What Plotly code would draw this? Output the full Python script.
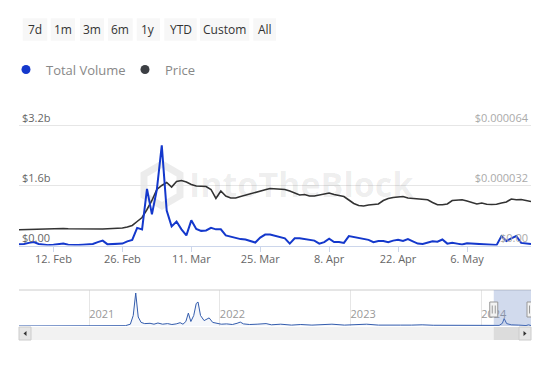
import pandas as pd
import plotly.graph_objects as go

W, H = 550, 367

# ---------------- data ----------------
start_date = "2024-02-05"
volume_bn = [0.03, 0.04, 0.07, 0.09, 0.04, 0.02, 0.01, 0.02, 0.04, 0.05,
             0.02, 0.01, 0.01, 0.02, 0.03, 0.04, 0.09, 0.13, 0.03, 0.03,
             0.03, 0.05, 0.11, 0.15, 0.47, 0.43, 1.51, 0.83, 1.49, 2.67,
             0.93, 0.51, 0.64, 0.43, 0.27, 0.67, 0.44, 0.39, 0.40, 0.47,
             0.43, 0.43, 0.27, 0.23, 0.21, 0.17, 0.16, 0.13, 0.08, 0.21,
             0.29, 0.29, 0.25, 0.23, 0.19, 0.05, 0.19, 0.19, 0.17, 0.15,
             0.13, 0.05, 0.09, 0.18, 0.09, 0.09, 0.07, 0.25, 0.23, 0.20,
             0.17, 0.15, 0.09, 0.12, 0.12, 0.09, 0.13, 0.15, 0.12, 0.17,
             0.11, 0.05, 0.04, 0.07, 0.11, 0.10, 0.16, 0.05, 0.07, 0.05,
             0.03, 0.06, 0.05, 0.05, 0.05, 0.04, 0.03, 0.01, 0.25, 0.12,
             0.19, 0.25, 0.07, 0.05, 0.04]
price_e6 = [8.37, 8.43, 8.53, 8.53, 8.64, 8.80, 8.91, 9.07, 9.23, 9.07,
            8.96, 8.91, 8.80, 8.69, 8.80, 8.69, 8.69, 8.80, 8.91, 8.96,
            9.07, 9.33, 9.87, 10.67, 12.8, 14.93, 19.2, 24.0, 29.87, 32.0,
            33.6, 31.2, 34.13, 34.67, 33.87, 32.53, 31.73, 31.47, 31.47, 29.87,
            25.07, 29.07, 26.4, 25.33, 25.33, 26.13, 26.93, 27.57, 28.27, 28.96,
            29.71, 30.4, 30.13, 29.87, 29.87, 29.07, 28.11, 26.93, 27.2, 26.4,
            26.4, 26.93, 27.73, 28.0, 27.2, 26.67, 26.13, 24.27, 22.4, 21.33,
            21.07, 21.6, 21.87, 22.13, 24.0, 25.07, 25.6, 25.97, 26.13, 25.33,
            25.07, 24.91, 24.53, 24.37, 22.93, 21.71, 21.71, 22.13, 24.0, 24.37,
            24.37, 23.73, 23.09, 22.13, 22.67, 21.97, 21.87, 21.97, 22.67, 23.2,
            24.8, 24.37, 24.53, 24.11, 23.47]
dates = pd.date_range(start_date, periods=len(volume_bn), freq="D")

nav_dates = ["2020-06-19", "2021-03-25", "2021-04-12", "2021-04-26", "2021-05-04",
             "2021-05-11", "2021-05-18", "2021-05-26", "2021-06-05", "2021-06-20",
             "2021-07-01", "2021-07-12", "2021-07-25", "2021-08-08", "2021-08-20",
             "2021-09-01", "2021-09-12", "2021-09-20", "2021-09-28", "2021-10-05",
             "2021-10-12", "2021-10-20", "2021-10-27", "2021-11-01", "2021-11-08",
             "2021-11-18", "2021-11-25", "2021-12-02", "2021-12-12", "2021-12-24",
             "2022-01-05", "2022-01-20", "2022-02-05", "2022-02-18", "2022-02-27",
             "2022-03-08", "2022-03-25", "2022-04-15", "2022-05-10", "2022-05-25",
             "2022-06-20", "2022-07-20", "2022-08-15", "2022-09-15", "2022-10-20",
             "2022-11-10", "2022-12-15", "2023-01-20", "2023-02-15", "2023-03-20",
             "2023-04-20", "2023-05-20", "2023-06-20", "2023-07-20", "2023-08-20",
             "2023-09-20", "2023-10-20", "2023-11-20", "2023-12-20", "2024-01-20",
             "2024-02-20", "2024-02-29", "2024-03-05", "2024-03-12", "2024-03-25",
             "2024-04-15", "2024-05-05", "2024-05-12", "2024-05-19"]
nav_volume_bn = [0, 0, 0.1, 0.6, 3.5,
                 11.0, 3.0, 1.2, 0.8, 0.9,
                 0.6, 1.0, 0.6, 0.8, 0.5,
                 0.7, 1.1, 0.6, 1.5, 4.3,
                 1.5, 3.5, 7.5, 8.0, 3.5,
                 1.8, 2.3, 2.7, 1.2, 0.8,
                 0.6, 0.7, 0.5, 0.9, 1.3,
                 0.7, 0.5, 0.6, 0.8, 0.4,
                 0.6, 0.3, 0.5, 0.3, 0.4,
                 0.6, 0.3, 0.4, 0.6, 0.3,
                 0.4, 0.3, 0.3, 0.4, 0.25,
                 0.2, 0.3, 0.35, 0.3, 0.2,
                 0.2, 0.9, 2.5, 0.8, 0.4,
                 0.3, 0.15, 0.4, 0.15]

buttons = ["7d", "1m", "3m", "6m", "1y", "YTD", "Custom", "All"]
vol_ticks = [0, 1.6, 3.2]
vol_ticktext = ["$0.00", "$1.6b", "$3.2b"]
price_ticks = [0, 32, 64]
price_ticktext = ["$0.00", "$0.000032", "$0.000064"]

# ---------------- layout helpers ----------------
def px(x):
    return x / W

def py(y):
    return (H - y) / H

BLUE = "#1438cc"
DARK = "#333333"
FONT = "Open Sans"

x_dom = [px(19), px(531)]
# volume 0 -> y=245.5, 3.2b -> y=125.5 ; axis extended to 3.7b so top labels fit
main_dom = [py(245.5), py(106.75)]
nav_dom = [py(326), py(290)]

fig = go.Figure()

fig.add_trace(go.Scatter(x=dates, y=price_e6, mode="lines", name="Price",
                         line=dict(color=DARK, width=1.6), xaxis="x", yaxis="y",
                         showlegend=False))
fig.add_trace(go.Scatter(x=dates, y=volume_bn, mode="lines", name="Total Volume",
                         line=dict(color=BLUE, width=2), xaxis="x", yaxis="y2",
                         showlegend=False))
# legend entries
fig.add_trace(go.Scatter(x=[None], y=[None], mode="markers", name="Total Volume",
                         marker=dict(color=BLUE, size=9), xaxis="x", yaxis="y2"))
fig.add_trace(go.Scatter(x=[None], y=[None], mode="markers", name="Price",
                         marker=dict(color="#3c3f44", size=9), xaxis="x", yaxis="y2"))
# navigator
fig.add_trace(go.Scatter(x=nav_dates, y=nav_volume_bn, mode="lines", showlegend=False,
                         line=dict(color="#335cad", width=1), fill="tozeroy",
                         fillcolor="rgba(51,92,173,0.05)", xaxis="x2", yaxis="y3"))

shapes = []
annotations = []

# range selector buttons
btn_x = [(22.7, 47.3), (50.7, 75), (80, 104), (108, 132.7), (136.7, 160),
         (164.3, 196.7), (200, 249.3), (253.3, 276)]
for label, (a, b) in zip(buttons, btn_x):
    shapes.append(dict(type="rect", xref="paper", yref="paper",
                       x0=px(a), x1=px(b), y0=py(40.7), y1=py(18.3),
                       fillcolor="#f7f7f7", line=dict(width=0), layer="below"))
    annotations.append(dict(text=label, xref="paper", yref="paper",
                            x=px((a + b) / 2), y=py(29.5), showarrow=False,
                            xanchor="center", yanchor="middle",
                            font=dict(family=FONT, size=12, color="#333333")))

# watermark
annotations.append(dict(text="<b>IntoTheBlock</b>", xref="paper", yref="paper",
                        x=px(301), y=py(184), showarrow=False,
                        xanchor="center", yanchor="middle",
                        font=dict(family=FONT, size=34, color="rgba(0,0,0,0.075)")))
hexpts = [(162, 164), (180, 174.5), (180, 195.5), (162, 206), (144, 195.5), (144, 174.5)]
path = "M " + " L ".join(f"{px(a):.5f},{py(b):.5f}" for a, b in hexpts) + " Z"
shapes.append(dict(type="path", xref="paper", yref="paper", path=path,
                   line=dict(color="rgba(0,0,0,0.075)", width=7), layer="below"))

# navigator decorations
shapes.append(dict(type="line", xref="paper", yref="paper", x0=px(19), x1=px(531),
                   y0=py(290), y1=py(290), line=dict(color="#cccccc", width=1)))
sel0, sel1 = str(dates[0].date()), str(dates[-1].date())
shapes.append(dict(type="rect", xref="x2", yref="paper", x0=sel0, x1=sel1,
                   y0=nav_dom[0], y1=nav_dom[1], fillcolor="rgba(102,133,194,0.3)",
                   line=dict(width=0)))
# scrollbar
shapes.append(dict(type="rect", xref="paper", yref="paper", x0=px(19), x1=px(531),
                   y0=py(340), y1=py(327), fillcolor="#f2f2f2", line=dict(width=0)))
shapes.append(dict(type="rect", xref="x2", yref="paper", x0=sel0, x1=sel1,
                   y0=py(340), y1=py(327), fillcolor="#dcdcdc", line=dict(width=0)))
shapes.append(dict(type="rect", xref="paper", yref="paper", x0=px(19), x1=px(31),
                   y0=py(340), y1=py(327), fillcolor="#e6e6e6",
                   line=dict(color="#cccccc", width=1)))
shapes.append(dict(type="rect", xref="paper", yref="paper", x0=px(519), x1=px(531),
                   y0=py(340), y1=py(327), fillcolor="#e6e6e6",
                   line=dict(color="#cccccc", width=1)))
shapes.append(dict(type="path", xref="paper", yref="paper",
                   path=f"M {px(26.5)},{py(331)} L {px(23.5)},{py(333.5)} L {px(26.5)},{py(336)} Z",
                   fillcolor="#333333", line=dict(width=0)))
shapes.append(dict(type="path", xref="paper", yref="paper",
                   path=f"M {px(523.5)},{py(331)} L {px(526.5)},{py(333.5)} L {px(523.5)},{py(336)} Z",
                   fillcolor="#333333", line=dict(width=0)))
# handles
for d in (sel0, sel1):
    shapes.append(dict(type="rect", xref="x2", yref="paper", xsizemode="pixel",
                       xanchor=d, x0=-4, x1=4, y0=py(317), y1=py(302),
                       fillcolor="#f2f2f2", line=dict(color="#999999", width=1)))
    for off in (-1.5, 1.5):
        shapes.append(dict(type="line", xref="x2", yref="paper", xsizemode="pixel",
                           xanchor=d, x0=off, x1=off, y0=py(313.5), y1=py(305.5),
                           line=dict(color="#999999", width=1)))

tickfont = dict(family=FONT, size=11, color="#666666")

fig.update_layout(
    width=W, height=H, margin=dict(l=0, r=0, t=0, b=0),
    paper_bgcolor="white", plot_bgcolor="white",
    font=dict(family=FONT),
    showlegend=True,
    legend=dict(orientation="h", x=px(6), y=py(69.5), xanchor="left", yanchor="middle",
                font=dict(family=FONT, size=13, color="#888888"),
                bgcolor="rgba(0,0,0,0)", itemwidth=30, tracegroupgap=0,
                entrywidth=74, entrywidthmode="pixels"),
    xaxis=dict(domain=x_dom, anchor="y", type="date",
               range=[sel0, sel1], tick0="2024-02-12", dtick=14 * 86400000,
               tickformat="%-d. %b", showgrid=False, showline=True,
               linecolor="#ccd6eb", ticks="outside", ticklen=5, tickcolor="#ccd6eb",
               ticklabelstandoff=-2,
               tickfont=tickfont, zeroline=False),
    yaxis=dict(domain=main_dom, anchor="x", side="right", range=[0, 74],
               tickvals=price_ticks, ticktext=price_ticktext,
               ticklabelposition="inside top", showgrid=True, gridcolor="#e6e6e6",
               zeroline=False, showline=False,
               tickfont=dict(family=FONT, size=11, color="#aaaaaa")),
    yaxis2=dict(overlaying="y", anchor="x", side="left", range=[0, 3.7],
                tickvals=vol_ticks, ticktext=vol_ticktext,
                ticklabelposition="inside top", showgrid=False,
                zeroline=False, showline=False, tickfont=tickfont),
    xaxis2=dict(domain=x_dom, anchor="y3", type="date",
                range=["2020-06-19", sel1], tick0="2021-01-01", dtick="M12",
                tickformat="%Y", ticklabelposition="inside right",
                showgrid=True, gridcolor="#e6e6e6", showline=False, ticks="",
                zeroline=False,
                tickfont=dict(family=FONT, size=11, color="#999999")),
    yaxis3=dict(domain=nav_dom, anchor="x2", range=[0, 12], visible=False),
    shapes=shapes, annotations=annotations,
)

fig.write_html("out.html")
